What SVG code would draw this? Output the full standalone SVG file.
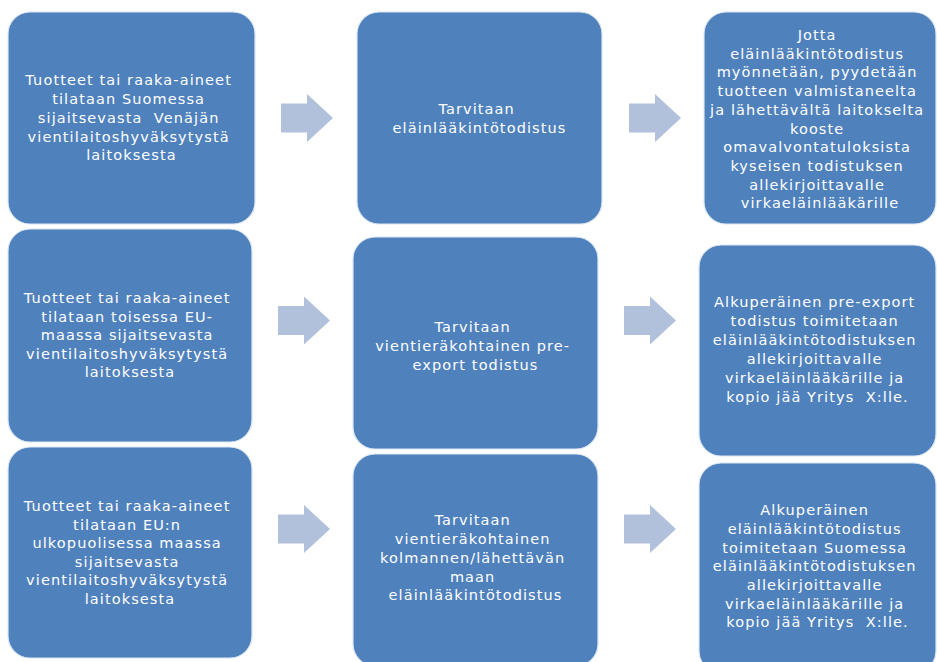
<svg xmlns="http://www.w3.org/2000/svg" width="937" height="662" viewBox="0 0 937 662">
  <style>
    .box { fill: #4F81BD; stroke: #DCE6F2; stroke-width: 1.2; }
    .arrow { fill: #B1C1DB; }
    .lbl { fill: #FFFFFF; font-family: "DejaVu Sans", "Liberation Sans", sans-serif; font-size: 14.5px; letter-spacing: 1.1px; text-anchor: middle; }
  </style>
  <defs>
    <path id="arr" d="M0,-14.5 H26 V-24 L52,0 L26,24 V14.5 H0 Z"/>
  </defs>
  <rect width="937" height="662" fill="#FFFFFF"/>

  <g id="connectors">
    <use href="#arr" class="arrow" transform="translate(281,118)"/>
    <use href="#arr" class="arrow" transform="translate(629,118)"/>
    <use href="#arr" class="arrow" transform="translate(278,320.5)"/>
    <use href="#arr" class="arrow" transform="translate(624,320.5)"/>
    <use href="#arr" class="arrow" transform="translate(278,529)"/>
    <use href="#arr" class="arrow" transform="translate(624,529)"/>
  </g>

  <g id="n1">
    <rect class="box" x="8" y="12" width="247" height="212" rx="22"/>
    <text class="lbl">
      <tspan x="131.5" y="85">Tuotteet tai raaka-aineet</tspan>
      <tspan x="131.5" y="104">tilataan Suomessa</tspan>
      <tspan x="131.5" y="123">sijaitsevasta&#160; Venäjän</tspan>
      <tspan x="131.5" y="142">vientilaitoshyväksytystä</tspan>
      <tspan x="131.5" y="160">laitoksesta</tspan>
    </text>
  </g>
  <g id="n2">
    <rect class="box" x="357" y="12" width="245" height="212" rx="22"/>
    <text class="lbl">
      <tspan x="479.5" y="114">Tarvitaan</tspan>
      <tspan x="479.5" y="133">eläinlääkintötodistus</tspan>
    </text>
  </g>
  <g id="n3">
    <rect class="box" x="704" y="12" width="232" height="212" rx="22"/>
    <text class="lbl">
      <tspan x="820" y="40">Jotta</tspan>
      <tspan x="820" y="58.7">eläinlääkintötodistus</tspan>
      <tspan x="820" y="77.4">myönnetään, pyydetään</tspan>
      <tspan x="820" y="96.1">tuotteen valmistaneelta</tspan>
      <tspan x="820" y="114.8">ja lähettävältä laitokselta</tspan>
      <tspan x="820" y="133.5">kooste</tspan>
      <tspan x="820" y="152.2">omavalvontatuloksista</tspan>
      <tspan x="820" y="170.9">kyseisen todistuksen</tspan>
      <tspan x="820" y="189.6">allekirjoittavalle</tspan>
      <tspan x="820" y="208.3">virkaeläinlääkärille</tspan>
    </text>
  </g>

  <g id="n4">
    <rect class="box" x="8" y="229" width="244" height="213" rx="22"/>
    <text class="lbl">
      <tspan x="130" y="303">Tuotteet tai raaka-aineet</tspan>
      <tspan x="130" y="321.5">tilataan toisessa EU-</tspan>
      <tspan x="130" y="340">maassa sijaitsevasta</tspan>
      <tspan x="130" y="358.5">vientilaitoshyväksytystä</tspan>
      <tspan x="130" y="377">laitoksesta</tspan>
    </text>
  </g>
  <g id="n5">
    <rect class="box" x="353" y="237" width="245" height="212" rx="22"/>
    <text class="lbl">
      <tspan x="475.5" y="332">Tarvitaan</tspan>
      <tspan x="475.5" y="351">vientieräkohtainen pre-</tspan>
      <tspan x="475.5" y="370">export todistus</tspan>
    </text>
  </g>
  <g id="n6">
    <rect class="box" x="699" y="245" width="237" height="211" rx="22"/>
    <text class="lbl">
      <tspan x="817.5" y="307">Alkuperäinen pre-export</tspan>
      <tspan x="817.5" y="326">todistus toimitetaan</tspan>
      <tspan x="817.5" y="345">eläinlääkintötodistuksen</tspan>
      <tspan x="817.5" y="364">allekirjoittavalle</tspan>
      <tspan x="817.5" y="383">virkaeläinlääkärille ja</tspan>
      <tspan x="817.5" y="402">kopio jää Yritys&#160; X:lle.</tspan>
    </text>
  </g>

  <g id="n7">
    <rect class="box" x="8" y="447" width="244" height="211" rx="22"/>
    <text class="lbl">
      <tspan x="130" y="511">Tuotteet tai raaka-aineet</tspan>
      <tspan x="130" y="529.5">tilataan EU:n</tspan>
      <tspan x="130" y="548">ulkopuolisessa maassa</tspan>
      <tspan x="130" y="566.5">sijaitsevasta</tspan>
      <tspan x="130" y="585">vientilaitoshyväksytystä</tspan>
      <tspan x="130" y="603.5">laitoksesta</tspan>
    </text>
  </g>
  <g id="n8">
    <rect class="box" x="353" y="454" width="245" height="212" rx="22"/>
    <text class="lbl">
      <tspan x="475.5" y="525">Tarvitaan</tspan>
      <tspan x="475.5" y="544">vientieräkohtainen</tspan>
      <tspan x="475.5" y="563">kolmannen/lähettävän</tspan>
      <tspan x="475.5" y="582">maan</tspan>
      <tspan x="475.5" y="600">eläinlääkintötodistus</tspan>
    </text>
  </g>
  <g id="n9">
    <rect class="box" x="699" y="463" width="237" height="210" rx="22"/>
    <text class="lbl">
      <tspan x="817.5" y="515">Alkuperäinen</tspan>
      <tspan x="817.5" y="534">eläinlääkintötodistus</tspan>
      <tspan x="817.5" y="552.5">toimitetaan Suomessa</tspan>
      <tspan x="817.5" y="571">eläinlääkintötodistuksen</tspan>
      <tspan x="817.5" y="590">allekirjoittavalle</tspan>
      <tspan x="817.5" y="608.5">virkaeläinlääkärille ja</tspan>
      <tspan x="817.5" y="627">kopio jää Yritys&#160; X:lle.</tspan>
    </text>
  </g>
</svg>
